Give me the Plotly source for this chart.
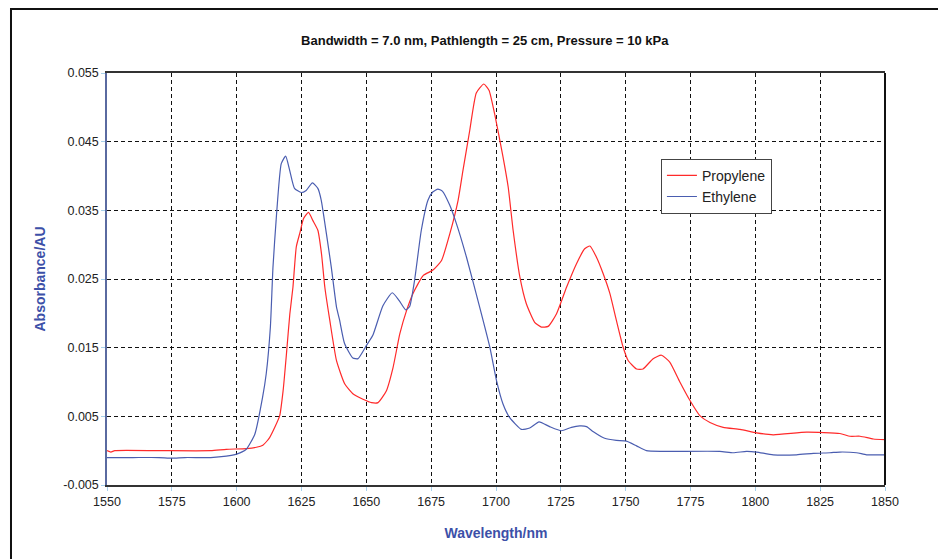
####################################
# ABSORBANCE SPECTRA - PROPYLENE VS ETHYLENE
####################################
import plotly.graph_objects as go

# wavelength (nm) / absorbance (AU)
wl_propylene = [1550, 1551.5, 1553, 1570, 1590, 1596, 1603.7, 1607.6, 1610.1, 1612.7,
                1614.7, 1616.6, 1617.9, 1619.2, 1620.5, 1621.7, 1623, 1624.3, 1625.8, 1627.7,
                1629.4, 1631.3, 1632.7, 1634, 1635.9, 1638.5, 1641.7, 1644.8, 1648.7, 1652,
                1654.5, 1657.7, 1660.3, 1662.9, 1665.5, 1668, 1671.9, 1675.7, 1679, 1682.2,
                1685.4, 1687.3, 1689.9, 1692.4, 1695.3, 1697.3, 1699.5, 1702.7, 1704.7, 1706.6,
                1709.2, 1711.7, 1714.9, 1717.5, 1720.1, 1723.3, 1727.2, 1731, 1734.2, 1736.2,
                1738.7, 1741.3, 1743.9, 1746.4, 1749, 1751, 1754.2, 1756.7, 1760.6, 1763.8,
                1767, 1770.9, 1774.8, 1778.6, 1782.5, 1787.6, 1794.1, 1800.5, 1806.9, 1819.8,
                1832.6, 1836.5, 1840.4, 1845.5, 1850]
abs_propylene = [0.0000, -0.0002, 0.0000, 0.0000, 0.0000, 0.0002, 0.0003, 0.0005, 0.0008, 0.0019,
                 0.0034, 0.0051, 0.0087, 0.0141, 0.0199, 0.0238, 0.0297, 0.0316, 0.0338, 0.0347,
                 0.0335, 0.0321, 0.0287, 0.0238, 0.0190, 0.0131, 0.0097, 0.0083, 0.0075, 0.0070,
                 0.0070, 0.0087, 0.0121, 0.0170, 0.0204, 0.0229, 0.0255, 0.0263, 0.0277, 0.0316,
                 0.0365, 0.0409, 0.0467, 0.0521, 0.0534, 0.0525, 0.0490, 0.0428, 0.0384, 0.0321,
                 0.0253, 0.0214, 0.0187, 0.0180, 0.0181, 0.0199, 0.0238, 0.0272, 0.0294, 0.0298,
                 0.0282, 0.0258, 0.0229, 0.0190, 0.0151, 0.0131, 0.0119, 0.0119, 0.0134, 0.0139,
                 0.0129, 0.0100, 0.0073, 0.0051, 0.0041, 0.0034, 0.0031, 0.0026, 0.0023, 0.0027,
                 0.0025, 0.0021, 0.0021, 0.0017, 0.0016]

wl_ethylene = [1550, 1560, 1570, 1575, 1580, 1590, 1596, 1600, 1603.7, 1607,
               1610, 1611.4, 1613, 1614, 1615.3, 1617.2, 1618.9, 1620.4, 1622.3, 1624.9,
               1626.8, 1629.2, 1631.3, 1632.6, 1634.6, 1636.5, 1638.5, 1639.7, 1641.6, 1644.8,
               1646.8, 1650, 1652.5, 1656.4, 1660, 1662.6, 1665.2, 1666.7, 1668.6, 1671.2,
               1673.8, 1675.7, 1677.6, 1679.3, 1682.1, 1684.7, 1688.6, 1693.7, 1697.6, 1700.2,
               1702.7, 1705.3, 1709.8, 1713, 1716.6, 1720.7, 1725.2, 1729.1, 1732.3, 1734.9,
               1737.4, 1741.9, 1746.4, 1750.3, 1754.2, 1758, 1764.4, 1786.3, 1791.5, 1796.6,
               1800.5, 1806.9, 1815.9, 1822.4, 1828.8, 1832.6, 1839, 1842.9, 1850]
abs_ethylene = [-0.0010, -0.0010, -0.0010, -0.0011, -0.0010, -0.0010, -0.0008, -0.0005, 0.0002, 0.0024,
                0.0078, 0.0112, 0.0180, 0.0267, 0.0340, 0.0418, 0.0429, 0.0409, 0.0382, 0.0376,
                0.0379, 0.0390, 0.0382, 0.0365, 0.0316, 0.0267, 0.0209, 0.0190, 0.0156, 0.0135,
                0.0134, 0.0153, 0.0168, 0.0211, 0.0230, 0.0219, 0.0205, 0.0210, 0.0248, 0.0321,
                0.0365, 0.0377, 0.0381, 0.0378, 0.0358, 0.0331, 0.0282, 0.0209, 0.0151, 0.0102,
                0.0068, 0.0048, 0.0031, 0.0033, 0.0042, 0.0035, 0.0029, 0.0034, 0.0036, 0.0035,
                0.0028, 0.0018, 0.0015, 0.0014, 0.0007, 0.0000, -0.0001, -0.0001, -0.0003, -0.0001,
                -0.0002, -0.0006, -0.0006, -0.0004, -0.0003, -0.0002, -0.0003, -0.0006, -0.0006]

x_ticks = [1550, 1575, 1600, 1625, 1650, 1675, 1700, 1725, 1750, 1775, 1800, 1825, 1850]
y_ticks = [-0.005, 0.005, 0.015, 0.025, 0.035, 0.045, 0.055]
y_labels = ['-0.005', '0.005', '0.015', '0.025', '0.035', '0.045', '0.055']

narrow = 'Liberation Sans Narrow, Arial Narrow, Liberation Sans, Arial'
bold = 'Liberation Sans, Arial'
blue_title = '#3c50a8'

fig = go.Figure()
fig.add_trace(go.Scatter(x=wl_propylene, y=abs_propylene, name='Propylene', mode='lines',
                         line=dict(color='#ff2a2a', width=1.2, shape='spline', smoothing=0.5)))
fig.add_trace(go.Scatter(x=wl_ethylene, y=abs_ethylene, name='Ethylene', mode='lines',
                         line=dict(color='#4a5db0', width=1.2, shape='spline', smoothing=0.5)))

fig.update_xaxes(range=[1550, 1850], tickvals=x_ticks,
                 showgrid=True, gridcolor='#111', griddash='4px,3px', gridwidth=1,
                 showline=True, linecolor='#333', linewidth=2, mirror=True,
                 ticks='outside', ticklen=4, tickcolor='#a8d0ea',
                 tickfont=dict(family=narrow, size=12.5, color='#222'),
                 title=dict(text='<b>Wavelength/nm</b>', standoff=20,
                            font=dict(family=bold, size=14, color=blue_title)),
                 zeroline=False)
fig.update_yaxes(range=[-0.005, 0.055], tickvals=y_ticks, ticktext=y_labels,
                 showgrid=True, gridcolor='#111', griddash='4px,3px', gridwidth=1,
                 showline=True, linecolor='#5a6aa0', linewidth=1.5,
                 ticks='outside', ticklen=4, tickcolor='#a8d0ea',
                 tickfont=dict(family=narrow, size=12.5, color='#222'),
                 title=dict(text='<b>Absorbance/AU</b>', standoff=14,
                            font=dict(family=bold, size=14, color=blue_title)),
                 zeroline=False)

# right edge of the plot frame and the outer chart border
fig.add_shape(type='line', xref='paper', yref='paper', x0=1, x1=1, y0=0, y1=1,
              line=dict(color='#111', width=2))
fig.add_shape(type='path', xref='paper', yref='paper',
              path='M -0.1234 -0.3 L -0.1234 1.1553 L 1.072 1.1553 L 1.072 -0.3',
              line=dict(color='#111', width=2))

# page body adds an 8px offset, so margins are shifted to put the plot where the reference has it
fig.update_layout(width=946, height=559,
                  margin=dict(l=99, r=69, t=65, b=82),
                  paper_bgcolor='white', plot_bgcolor='white',
                  title=dict(text='<b>Bandwidth = 7.0 nm, Pathlength = 25 cm, Pressure = 10 kPa</b>',
                             x=0.504, xref='container', xanchor='center',
                             y=1 - 32 / 559, yref='container', yanchor='middle',
                             font=dict(family=bold, size=13, color='#111')),
                  legend=dict(x=0.712, y=0.792, xanchor='left', yanchor='top',
                              bgcolor='white', bordercolor='#444', borderwidth=1,
                              font=dict(family=narrow, size=14, color='#222'),
                              tracegroupgap=0),
                  showlegend=True)

fig.write_html("out.html")
